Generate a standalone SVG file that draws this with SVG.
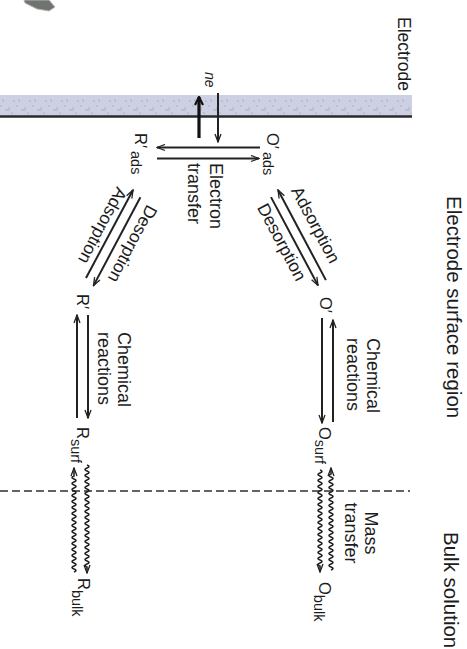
<svg xmlns="http://www.w3.org/2000/svg" width="467" height="649" viewBox="0 0 467 649">
<defs>
<style>
text{font-family:"Liberation Sans",Arial,sans-serif;fill:#1c1c1c}
.lbl{font-size:18px}
.dia{font-size:17.5px}
.reg{font-size:20.5px}
.sp{font-size:16.5px}
.sub{font-size:14.5px}
.ln{fill:none;stroke:#222;stroke-width:2}
.wv{fill:none;stroke:#222;stroke-width:1.6}
.ar{marker-end:url(#ah)}
</style>
<marker id="ah" viewBox="-9 -4 10 8" refX="0" refY="0" markerWidth="10" markerHeight="8" markerUnits="userSpaceOnUse" orient="auto">
<path d="M-8,-3 L0,0 L-8,3" fill="none" stroke="#222" stroke-width="1.3"/>
</marker>
<marker id="ahb" viewBox="-10 -5 11 10" refX="0" refY="0" markerWidth="11" markerHeight="10" markerUnits="userSpaceOnUse" orient="auto">
<path d="M-8,-4 L0,0 L-8,4" fill="none" stroke="#111" stroke-width="2.2"/>
</marker>
<pattern id="tex" width="16" height="21" patternUnits="userSpaceOnUse" x="0" y="95">
<rect width="16" height="21" fill="#ccd0e2"/>
<path d="M3 4v3M9 12v4M13 6h2M5 15h3M1 10v2M12 17v2" stroke="#8e96b8" stroke-width="0.8" opacity="0.7"/>
</pattern>
</defs>

<polygon points="24,0 49,0 55,7 49,11 37,9 25,3" fill="#6f7470" stroke="#b5b8b6" stroke-width="1"/>

<g id="electrode">
<rect x="0" y="95" width="412" height="21" fill="url(#tex)"/>
<line x1="0" y1="116.5" x2="412" y2="116.5" stroke="#2a2a2a" stroke-width="2.6"/>
<text class="lbl" style="font-size:17.5px" transform="translate(398,17) rotate(90)">Electrode</text>
</g>

<g id="regions">
<text class="reg" transform="translate(447,196) rotate(90)">Electrode surface region</text>
<text class="reg" transform="translate(444,532) rotate(90)">Bulk solution</text>
<line x1="0" y1="491" x2="410" y2="491" stroke="#2b2f38" stroke-width="1.5" stroke-dasharray="8 4"/>
</g>

<g id="node-Rads"><text class="sp" transform="translate(135,133) rotate(90)">R′<tspan class="sub" dx="3" dy="4">ads</tspan></text></g>
<g id="node-Oads"><text class="sp" transform="translate(267,133) rotate(90)">O′<tspan class="sub" dx="3" dy="4">ads</tspan></text></g>
<g id="node-Rp"><text class="sp" transform="translate(77,294) rotate(90)">R′</text></g>
<g id="node-Op"><text class="sp" transform="translate(320,297) rotate(90)">O′</text></g>
<g id="node-Rsurf"><text class="sp" transform="translate(76.5,427) rotate(90)">R<tspan class="sub" dy="6">surf</tspan></text></g>
<g id="node-Osurf"><text class="sp" transform="translate(319,427) rotate(90)">O<tspan class="sub" dy="4.5">surf</tspan></text></g>
<g id="node-Rbulk"><text class="sp" transform="translate(77.5,578) rotate(90)">R<tspan class="sub" dy="6">bulk</tspan></text></g>
<g id="node-Obulk"><text class="sp" transform="translate(318.5,582) rotate(90)">O<tspan class="sub" dy="4.5">bulk</tspan></text></g>

<g id="connectors">
<line x1="199" y1="138" x2="199" y2="97" stroke="#111" stroke-width="3.2" marker-end="url(#ahb)"/>
<line class="ln ar" x1="218" y1="93" x2="218" y2="142"/>
<line class="ln ar" x1="260" y1="147.5" x2="157" y2="147.5"/>
<line class="ln ar" x1="157" y1="158.5" x2="259" y2="158.5"/>
<line class="ln ar" x1="86" y1="278" x2="133" y2="190"/>
<line class="ln ar" x1="140.4" y1="197.3" x2="93.5" y2="285.6"/>
<line class="ln ar" x1="325.9" y1="280.1" x2="278" y2="190"/>
<line class="ln ar" x1="271" y1="197.1" x2="318" y2="285.4"/>
<line class="ln ar" x1="77" y1="418" x2="77" y2="315"/>
<line class="ln ar" x1="88" y1="315" x2="88" y2="418"/>
<line class="ln ar" x1="322" y1="318" x2="322" y2="423"/>
<line class="ln ar" x1="333" y1="422" x2="333" y2="320"/>
<path class="wv ar" d="M74 572q4 -1.5 0 -3q-4 -1.5 0 -3q4 -1.5 0 -3q-4 -1.5 0 -3q4 -1.5 0 -3q-4 -1.5 0 -3q4 -1.5 0 -3q-4 -1.5 0 -3q4 -1.5 0 -3q-4 -1.5 0 -3q4 -1.5 0 -3q-4 -1.5 0 -3q4 -1.5 0 -3q-4 -1.5 0 -3q4 -1.5 0 -3q-4 -1.5 0 -3q4 -1.5 0 -3q-4 -1.5 0 -3q4 -1.5 0 -3q-4 -1.5 0 -3q4 -1.5 0 -3q-4 -1.5 0 -3q4 -1.5 0 -3q-4 -1.5 0 -3q4 -1.5 0 -3q-4 -1.5 0 -3q4 -1.5 0 -3q-4 -1.5 0 -3q4 -1.5 0 -3q-4 -1.5 0 -3q4 -1.5 0 -3q-4 -1.5 0 -3v-8"/>
<path class="wv ar" d="M87 465q4 1.5 0 3q-4 1.5 0 3q4 1.5 0 3q-4 1.5 0 3q4 1.5 0 3q-4 1.5 0 3q4 1.5 0 3q-4 1.5 0 3q4 1.5 0 3q-4 1.5 0 3q4 1.5 0 3q-4 1.5 0 3q4 1.5 0 3q-4 1.5 0 3q4 1.5 0 3q-4 1.5 0 3q4 1.5 0 3q-4 1.5 0 3q4 1.5 0 3q-4 1.5 0 3q4 1.5 0 3q-4 1.5 0 3q4 1.5 0 3q-4 1.5 0 3q4 1.5 0 3q-4 1.5 0 3q4 1.5 0 3q-4 1.5 0 3q4 1.5 0 3q-4 1.5 0 3q4 1.5 0 3q-4 1.5 0 3q4 1.5 0 3q-4 1.5 0 3v6"/>
<path class="wv ar" d="M320 470q4 1.5 0 3q-4 1.5 0 3q4 1.5 0 3q-4 1.5 0 3q4 1.5 0 3q-4 1.5 0 3q4 1.5 0 3q-4 1.5 0 3q4 1.5 0 3q-4 1.5 0 3q4 1.5 0 3q-4 1.5 0 3q4 1.5 0 3q-4 1.5 0 3q4 1.5 0 3q-4 1.5 0 3q4 1.5 0 3q-4 1.5 0 3q4 1.5 0 3q-4 1.5 0 3q4 1.5 0 3q-4 1.5 0 3q4 1.5 0 3q-4 1.5 0 3q4 1.5 0 3q-4 1.5 0 3q4 1.5 0 3q-4 1.5 0 3q4 1.5 0 3q-4 1.5 0 3q4 1.5 0 3q-4 1.5 0 3v6"/>
<path class="wv ar" d="M331 570q4 -1.5 0 -3q-4 -1.5 0 -3q4 -1.5 0 -3q-4 -1.5 0 -3q4 -1.5 0 -3q-4 -1.5 0 -3q4 -1.5 0 -3q-4 -1.5 0 -3q4 -1.5 0 -3q-4 -1.5 0 -3q4 -1.5 0 -3q-4 -1.5 0 -3q4 -1.5 0 -3q-4 -1.5 0 -3q4 -1.5 0 -3q-4 -1.5 0 -3q4 -1.5 0 -3q-4 -1.5 0 -3q4 -1.5 0 -3q-4 -1.5 0 -3q4 -1.5 0 -3q-4 -1.5 0 -3q4 -1.5 0 -3q-4 -1.5 0 -3q4 -1.5 0 -3q-4 -1.5 0 -3q4 -1.5 0 -3q-4 -1.5 0 -3q4 -1.5 0 -3q-4 -1.5 0 -3q4 -1.5 0 -3q-4 -1.5 0 -3v-6"/>
</g>

<g id="labels">
<text style="font-size:14px;font-style:italic" transform="translate(205,72) rotate(90)">ne</text>
<text class="lbl" transform="translate(210,163) rotate(90)">Electron</text>
<text class="lbl" transform="translate(188,163) rotate(90)">transfer</text>
<text class="dia" transform="translate(117,186) rotate(118)">Adsorption</text>
<text class="dia" transform="translate(147.2,203.8) rotate(118)">Desorption</text>
<text class="dia" transform="translate(290.8,190.6) rotate(62)">Adsorption</text>
<text class="dia" transform="translate(256.7,207.5) rotate(62)">Desorption</text>
<text class="lbl" transform="translate(118,332) rotate(90)">Chemical</text>
<text class="lbl" transform="translate(98,332) rotate(90)">reactions</text>
<text class="lbl" transform="translate(367,338) rotate(90)">Chemical</text>
<text class="lbl" transform="translate(347,338) rotate(90)">reactions</text>
<text class="lbl" text-anchor="middle" transform="translate(365,533) rotate(90)">Mass</text>
<text class="lbl" text-anchor="middle" transform="translate(345,533) rotate(90)">transfer</text>
</g>
</svg>
